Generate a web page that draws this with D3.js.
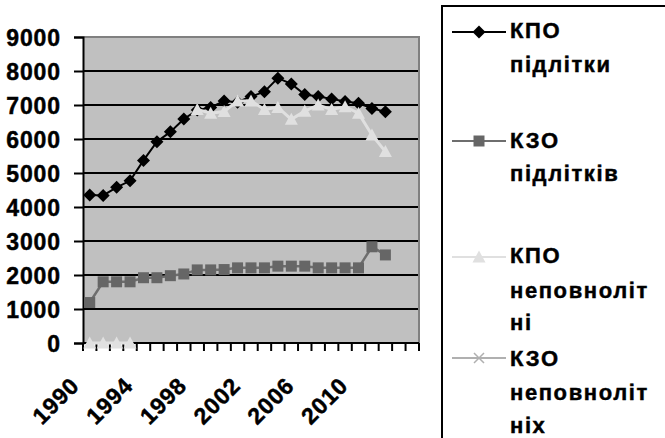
<!DOCTYPE html>
<html>
<head>
<meta charset="utf-8">
<script src="https://cdn.jsdelivr.net/npm/d3@7"></script>
<style>
  html, body { margin: 0; padding: 0; background: #fff; }
  svg { display: block; }
  text { font-family: "Liberation Sans", Arial, sans-serif; font-weight: bold; fill: #000; stroke: #000; stroke-width: 0.45px; }
</style>
</head>
<body>
<svg id="chart" width="665" height="438"></svg>
<script>
// ---- data ----
const categories = ["1990","1991","1992","1993","1994","1995","1996","1997","1998","1999",
                    "2000","2001","2002","2003","2004","2005","2006","2007","2008","2009",
                    "2010","2011","2012","2013","2014"];
const xTickLabels = ["1990","1994","1998","2002","2006","2010"];
const yTickValues = [0,1000,2000,3000,4000,5000,6000,7000,8000,9000];

const kpoPidlitky = [4350, 4340, 4580, 4770, 5370, 5920, 6210, 6590, 6850, 6930,
                     7120, 7080, 7250, 7390, 7790, 7620, 7310, 7250, 7180, 7100,
                     7050, 6900, 6800, null, null];
const kzoPidlitkiv = [1190, 1800, 1800, 1800, 1920, 1920, 1980, 2030, 2150, 2150,
                      2160, 2210, 2210, 2210, 2260, 2260, 2260, 2210, 2210, 2210,
                      2210, 2830, 2590, null, null];
const kpoNepovnolitni = [0, 0, 0, 0, null, null, null, null, 6870, 6760,
                         6810, 7120, 7120, 6870, 6930, 6580, 6820, 7000, 6870, 6950,
                         6760, 6120, 5630, null, null];
const kzoNepovnolitnih = [null, null, null, null, null, null, null, null, null, null,
                          null, null, null, null, null, null, null, null, null, null,
                          null, null, null, null, null];

const seriesNames = [["КПО","підлітки"], ["КЗО","підлітків"],
                     ["КПО","неповноліт","ні"], ["КЗО","неповноліт","ніх"]];

// ---- layout ----
const svg = d3.select("#chart");
const plot = {left: 83, right: 419, top: 37, bottom: 343};

const x = d3.scaleBand().domain(categories).range([plot.left, plot.right]).padding(0);
const y = d3.scaleLinear().domain([0, 9000]).range([plot.bottom, plot.top]);
const cx = c => x(c) + x.bandwidth() / 2;

// plot background
svg.append("rect")
  .attr("x", plot.left).attr("y", plot.top)
  .attr("width", plot.right - plot.left).attr("height", plot.bottom - plot.top)
  .attr("fill", "#c0c0c0");

// gridlines
svg.append("g").selectAll("line")
  .data(yTickValues.filter(v => v > 0 && v < 9000))
  .join("line")
  .attr("x1", plot.left).attr("x2", plot.right)
  .attr("y1", d => y(d)).attr("y2", d => y(d))
  .attr("stroke", "#000").attr("stroke-width", 2);

// border (top/right gray)
svg.append("path")
  .attr("d", `M${plot.left},${plot.top}H${plot.right}V${plot.bottom}`)
  .attr("fill", "none").attr("stroke", "#808080").attr("stroke-width", 2);

// y axis
const yAxis = d3.axisLeft(y).tickValues(yTickValues).tickSize(9).tickPadding(13)
  .tickFormat(d3.format("d"));
const gy = svg.append("g").attr("transform", `translate(${plot.left},0)`).call(yAxis);
gy.select(".domain").attr("stroke", "#000").attr("stroke-width", 2);
gy.selectAll(".tick line").attr("stroke", "#000").attr("stroke-width", 2);
gy.selectAll(".tick text")
  .style("font-family", '"Liberation Sans", Arial, sans-serif')
  .style("font-weight", "bold").style("font-size", "23px")
  .style("letter-spacing", "0.9px")
  .style("stroke", "#000").style("stroke-width", "0.45px")
  .attr("fill", "#000").attr("dy", "0.36em");

// x axis line + ticks at category boundaries
svg.append("line")
  .attr("x1", plot.left).attr("x2", plot.right)
  .attr("y1", plot.bottom).attr("y2", plot.bottom)
  .attr("stroke", "#000").attr("stroke-width", 2);
const boundaries = categories.map(c => x(c)).concat([plot.right]);
svg.append("g").selectAll("line").data(boundaries).join("line")
  .attr("x1", d => d).attr("x2", d => d)
  .attr("y1", plot.bottom).attr("y2", plot.bottom + 8)
  .attr("stroke", "#000").attr("stroke-width", 2);

// x labels
svg.append("g").selectAll("text").data(xTickLabels).join("text")
  .attr("transform", d => `translate(${cx(d) - 9},${plot.bottom + 44}) rotate(-45)`)
  .attr("text-anchor", "end")
  .style("font-size", "23px")
  .style("letter-spacing", "0.9px")
  .text(d => d);

// ---- series ----
const markerSymbols = {
  diamond: s => `M0,${-s}L${s},0L0,${s}L${-s},0Z`,
  square: s => `M${-s},${-s}H${s}V${s}H${-s}Z`,
  triangle: s => `M0,${-s}L${s},${s * 0.85}H${-s}Z`,
  cross: s => `M${-s},${-s}L${s},${s}M${s},${-s}L${-s},${s}`
};
const series = [
  {values: kpoPidlitky, line: "#000", lw: 2, marker: "diamond", size: 6.5, fill: "#000", stroke: "none"},
  {values: kzoPidlitkiv, line: "#6e6e6e", lw: 2.5, marker: "square", size: 5.5, fill: "#666", stroke: "none"},
  {values: kpoNepovnolitni, line: "#e0e0e0", lw: 3, marker: "triangle", size: 6.5, fill: "#e0e0e0", stroke: "none"},
  {values: kzoNepovnolitnih, line: "#b0b0b0", lw: 2, marker: "cross", size: 5, fill: "none", stroke: "#b0b0b0"}
];

const lineGen = d3.line()
  .defined(d => d.v !== null)
  .x(d => cx(d.c)).y(d => y(d.v));

series.forEach(s => {
  const pts = categories.map((c, i) => ({c, v: s.values[i]}));
  svg.append("path").datum(pts)
    .attr("d", lineGen).attr("fill", "none")
    .attr("stroke", s.line).attr("stroke-width", s.lw);
  svg.append("g").selectAll("path").data(pts.filter(d => d.v !== null)).join("path")
    .attr("transform", d => `translate(${cx(d.c)},${y(d.v)})`)
    .attr("d", markerSymbols[s.marker](s.size))
    .attr("fill", s.fill).attr("stroke", s.stroke).attr("stroke-width", 1.5);
});

// ---- legend ----
svg.append("rect")
  .attr("x", 442).attr("y", 6).attr("width", 400).attr("height", 600)
  .attr("fill", "#fff").attr("stroke", "#000").attr("stroke-width", 2);

const legendLineY = [32, 141, 257, 358];
const legendBaselines = [[38, 72], [148, 181], [263, 298, 330], [366, 400, 433]];
const lg = svg.append("g");
series.forEach((s, i) => {
  const g = lg.append("g");
  g.append("line").attr("x1", 452).attr("x2", 506)
    .attr("y1", legendLineY[i]).attr("y2", legendLineY[i])
    .attr("stroke", s.line).attr("stroke-width", 2);
  g.append("path")
    .attr("transform", `translate(479,${legendLineY[i]})`)
    .attr("d", markerSymbols[s.marker](s.size))
    .attr("fill", s.fill).attr("stroke", s.stroke).attr("stroke-width", 1.5);
  seriesNames[i].forEach((t, j) => {
    g.append("text").attr("x", 510).attr("y", legendBaselines[i][j])
      .style("font-size", "22px").style("letter-spacing", "1.6px")
      .text(t);
  });
});
</script>
</body>
</html>
